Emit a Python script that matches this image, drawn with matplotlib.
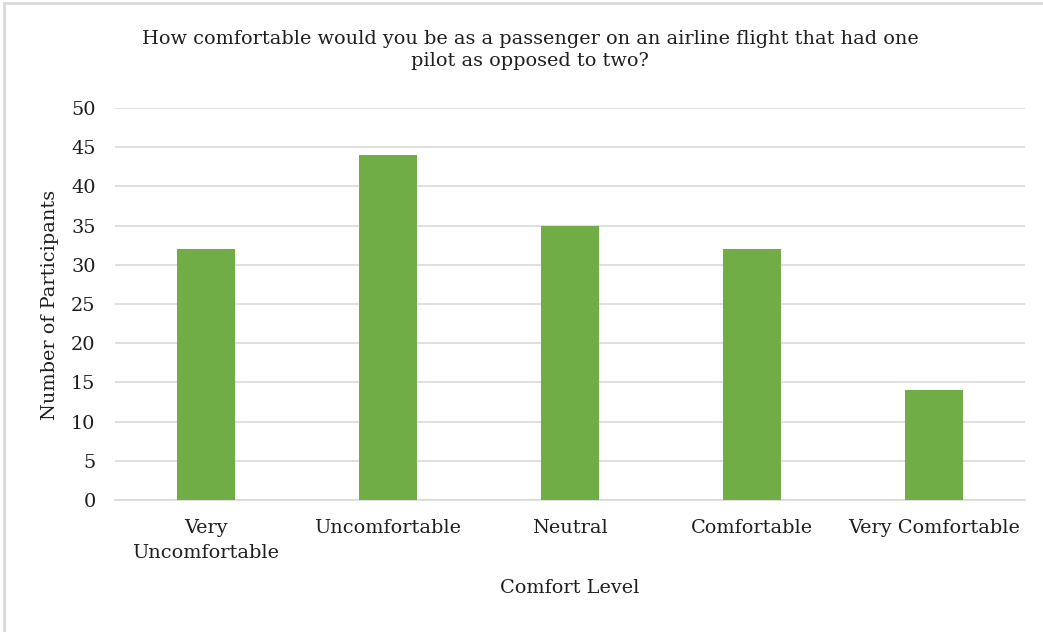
import matplotlib
matplotlib.use("Agg")
import matplotlib.pyplot as plt
from matplotlib.lines import Line2D

categories = ["Very\nUncomfortable", "Uncomfortable", "Neutral", "Comfortable", "Very Comfortable"]
participants = [32, 44, 35, 32, 14]
y_ticks = [0, 5, 10, 15, 20, 25, 30, 35, 40, 45, 50]

title = "How comfortable would you be as a passenger on an airline flight that had one\npilot as opposed to two?"
x_label = "Comfort Level"
y_label = "Number of Participants"

plt.rcParams["font.family"] = ["DejaVu Serif"]
TEXT = "#1E1E1E"
FS = 13.9

W, H = 1043, 632
fig = plt.figure(figsize=(W / 100, H / 100), dpi=100)
fig.patch.set_facecolor("white")

# light frame edges along the top and left of the chart area
fig.add_artist(Line2D([4 / W, 1], [1 - 3 / H, 1 - 3 / H], transform=fig.transFigure,
                      color="#D9D9D9", linewidth=2))
fig.add_artist(Line2D([4 / W, 4 / W], [0, 1 - 3 / H], transform=fig.transFigure,
                      color="#D9D9D9", linewidth=2))

ax = fig.add_axes([115 / W, 1 - 500 / H, 910 / W, 392 / H])
x = range(len(categories))
ax.bar(x, participants, width=0.32, color="#70AD47", zorder=3)

ax.set_xlim(-0.5, len(categories) - 0.5)
ax.set_ylim(0, 50)
ax.set_yticks(y_ticks)
ax.set_xticks(list(x))
ax.set_xticklabels(categories, fontsize=FS, color=TEXT, linespacing=1.45)
ax.tick_params(axis="y", labelsize=FS, labelcolor=TEXT, length=0, pad=14)
ax.tick_params(axis="x", length=0, pad=14)

ax.grid(axis="y", color="#D9D9D9", linewidth=1.2, zorder=0)
for s in ["top", "right", "left"]:
    ax.spines[s].set_visible(False)
ax.spines["bottom"].set_color("#D9D9D9")
ax.spines["bottom"].set_linewidth(1.2)

fig.text(530 / W, 1 - 50 / H, title, ha="center", va="center", fontsize=FS,
         color=TEXT, linespacing=1.35)
fig.text(570 / W, 1 - 588 / H, x_label, ha="center", va="center", fontsize=FS, color=TEXT)
fig.text(50 / W, 1 - 305 / H, y_label, ha="center", va="center", rotation=90,
         fontsize=FS, color=TEXT)

fig.savefig("out.png", dpi=100, facecolor="white")
